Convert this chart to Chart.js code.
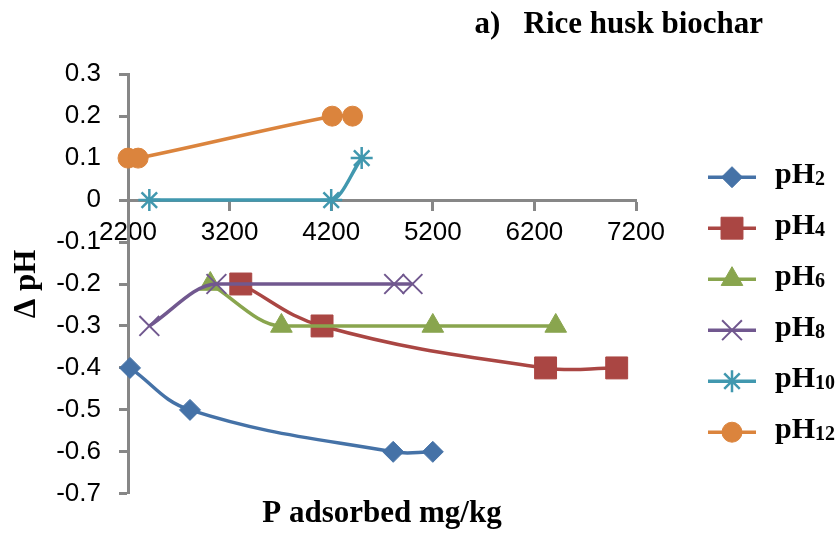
<!DOCTYPE html>
<html>
<head>
<meta charset="utf-8">
<script src="https://cdn.jsdelivr.net/npm/chart.js@4.4.1/dist/chart.umd.min.js"></script>
<style>
  html, body { margin: 0; padding: 0; background: #fff; }
  #wrap { width: 840px; height: 536px; }
</style>
</head>
<body>
<div id="wrap"><canvas id="chart" width="840" height="536"></canvas></div>
<script>
// Change in pH against P adsorbed (mg/kg) for rice husk biochar at six initial pH values
const legendMain = 'pH';
const legendSubs = ['2', '4', '6', '8', '10', '12'];

const pH2X = [2220, 2810, 4810, 5200];
const pH2Y = [-0.4, -0.5, -0.6, -0.6];

const pH4X = [3310, 4110, 6310, 7010];
const pH4Y = [-0.2, -0.3, -0.4, -0.4];

const pH6X = [3010, 3710, 5200, 6410];
const pH6Y = [-0.2, -0.3, -0.3, -0.3];

const pH8X = [2410, 3070, 4820, 5000];
const pH8Y = [-0.3, -0.2, -0.2, -0.2];

const pH10X = [2410, 4200, 4500];
const pH10Y = [0, 0, 0.1];

const pH12X = [2200, 2300, 4210, 4410];
const pH12Y = [0.1, 0.1, 0.2, 0.2];

const xTicks = [2200, 3200, 4200, 5200, 6200, 7200];

const pts = (xs, ys) => xs.map((x, i) => ({ x: x, y: ys[i] }));

const axisGrey = '#878787';
const serif = '"Liberation Serif", "Times New Roman", serif';
const sans = '"Liberation Sans", Arial, sans-serif';

function series(label, xs, ys, color, style, radius, bw, extra) {
  return Object.assign({
    label: label,
    data: pts(xs, ys),
    borderColor: color,
    backgroundColor: color,
    borderWidth: 3.5,
    pointStyle: style,
    pointRadius: radius,
    pointHoverRadius: radius,
    pointBackgroundColor: color,
    pointBorderColor: color,
    pointBorderWidth: bw,
    tension: 0.4,
    clip: false
  }, extra || {});
}

const datasets = [
  series('pH2',  pH2X,  pH2Y,  '#4572A7', 'rectRot',  10.5, 1,  { order: 5 }),
  series('pH4',  pH4X,  pH4Y,  '#AA4643', 'rect',     15.5, 1,  { order: 4 }),
  series('pH6',  pH6X,  pH6Y,  '#89A54E', 'triangle', 12.5, 1,  { order: 3, cubicInterpolationMode: 'monotone' }),
  series('pH8',  pH8X,  pH8Y,  '#71588F', 'crossRot', 14,  2,   { order: 2, cubicInterpolationMode: 'monotone' }),
  series('pH10', pH10X, pH10Y, '#4198AF', 'star',     11,  2.5, { order: 1, cubicInterpolationMode: 'monotone' }),
  series('pH12', pH12X, pH12Y, '#DB843D', 'circle',   10,  1,   { order: 0 })
];

// Key drawn at the right: line sample with marker, then "pH" with a subscript
const seriesKey = {
  id: 'seriesKey',
  afterDraw(chart) {
    const { ctx, chartArea } = chart;
    const x0 = chartArea.right + 72;
    const x1 = x0 + 48;
    const xm = (x0 + x1) / 2;
    const tx = x1 + 19;
    const rowH = 51;
    const y0 = chartArea.top + 103;
    chart.data.datasets.forEach((ds, i) => {
      const y = y0 + i * rowH;
      ctx.save();
      ctx.strokeStyle = ds.borderColor;
      ctx.lineWidth = ds.borderWidth;
      ctx.beginPath();
      ctx.moveTo(x0, y);
      ctx.lineTo(x1, y);
      ctx.stroke();
      ctx.fillStyle = ds.pointBackgroundColor;
      ctx.strokeStyle = ds.pointBorderColor;
      ctx.lineWidth = ds.pointBorderWidth;
      Chart.helpers.drawPoint(ctx, {
        pointStyle: ds.pointStyle,
        radius: ds.pointRadius,
        borderWidth: ds.pointBorderWidth,
        rotation: 0
      }, xm, y);
      ctx.fillStyle = '#000';
      ctx.textAlign = 'left';
      ctx.textBaseline = 'alphabetic';
      ctx.font = 'bold 30px ' + serif;
      ctx.fillText(legendMain, tx, y + 6);
      const w = ctx.measureText(legendMain).width;
      ctx.font = 'bold 20px ' + serif;
      ctx.fillText(legendSubs[i], tx + w, y + 8);
      ctx.restore();
    });
  }
};

new Chart(document.getElementById('chart'), {
  type: 'line',
  data: { datasets: datasets },
  plugins: [seriesKey],
  options: {
    responsive: false,
    animation: false,
    events: [],
    layout: { padding: { left: 0, right: 77, top: 0, bottom: 0 } },
    plugins: {
      legend: { display: false },
      tooltip: { enabled: false },
      title: {
        display: true,
        text: 'a)   Rice husk biochar',
        align: 'end',
        color: '#000',
        font: { family: serif, size: 31, weight: 'bold' },
        padding: { top: 6, bottom: 31 }
      },
      subtitle: {
        display: true,
        position: 'bottom',
        fullSize: false,
        text: 'P adsorbed mg/kg',
        color: '#000',
        font: { family: serif, size: 31, weight: 'bold' },
        padding: { top: 2, bottom: 3 }
      }
    },
    scales: {
      x: {
        type: 'linear',
        min: xTicks[0],
        max: xTicks[xTicks.length - 1],
        position: { y: 0 },
        afterBuildTicks(scale) { scale.ticks = xTicks.map(v => ({ value: v })); },
        ticks: {
          autoSkip: false,
          maxRotation: 0,
          padding: 8,
          color: '#000',
          font: { family: sans, size: 26 },
          callback: v => String(v)
        },
        grid: {
          display: true,
          drawOnChartArea: false,
          drawTicks: true,
          tickLength: 9,
          tickWidth: 3,
          tickColor: axisGrey
        },
        border: { display: true, color: axisGrey, width: 3 }
      },
      y: {
        type: 'linear',
        position: 'left',
        min: -0.7,
        max: 0.3,
        afterFit(scale) { scale.width = 128; },
        ticks: {
          stepSize: 0.1,
          padding: 18,
          color: '#000',
          font: { family: sans, size: 26 },
          callback: v => String(Math.round(v * 10) / 10)
        },
        grid: {
          display: true,
          drawOnChartArea: false,
          drawTicks: true,
          tickLength: 9,
          tickWidth: 3,
          tickColor: axisGrey
        },
        border: { display: true, color: axisGrey, width: 3 },
        title: {
          display: true,
          text: 'Δ pH',
          color: '#000',
          font: { family: serif, size: 31, weight: 'bold' },
          padding: { top: 8, bottom: 0 }
        }
      },
      keyGutter: {
        type: 'linear',
        position: 'right',
        display: true,
        afterFit(scale) { scale.width = 127; },
        ticks: { display: false },
        grid: { display: false },
        border: { display: false }
      }
    }
  }
});
</script>
</body>
</html>
